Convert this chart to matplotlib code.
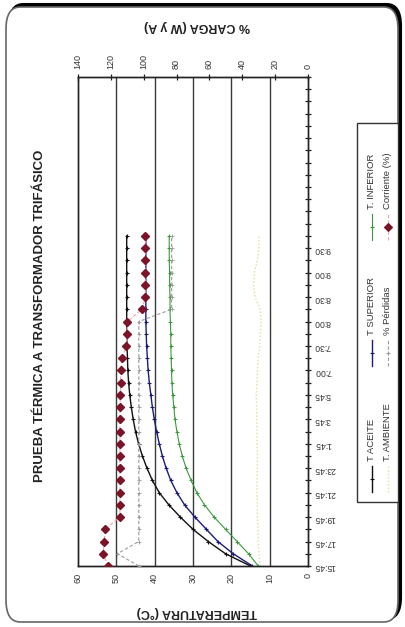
import matplotlib
matplotlib.use("Agg")
import matplotlib.pyplot as plt
from matplotlib.patches import FancyBboxPatch, Rectangle
from matplotlib.lines import Line2D

plt.rcParams['font.family'] = ['Liberation Sans', 'DejaVu Sans']

# ---- data -------------------------------------------------------------
horas = ["15:45", "16:45", "17:45", "18:45", "19:45", "20:45", "21:45", "22:45",
         "23:45", "0:45", "1:45", "2:45", "3:45", "4:45", "5:45", "6:30",
         "7:00", "7:15", "7:30", "7:45", "8:00", "8:15", "8:30", "8:45",
         "9:00", "9:15", "9:30", "9:45"]

t_aceite = [15.0, 21.5, 26.0, 30.0, 33.3, 36.3, 38.8, 40.6, 42.0, 43.2, 44.2,
            45.0, 45.6, 46.1, 46.5, 46.8, 47.0, 47.1, 47.2, 47.3, 47.3, 47.3,
            47.3, 47.3, 47.3, 47.3, 47.3, 47.3]
t_superior = [14.5, 19.5, 23.5, 26.5, 29.5, 32.2, 34.2, 35.8, 37.0, 38.0, 38.8,
              39.5, 40.1, 40.6, 41.0, 41.4, 41.7, 41.9, 42.1, 42.2, 42.3, 42.3,
              42.3, 42.3, 42.3, 42.3, 42.3, 42.3]
t_inferior = [13.0, 15.5, 18.5, 21.5, 24.5, 27.0, 29.0, 30.5, 31.8, 32.8, 33.6,
              34.2, 34.7, 35.0, 35.3, 35.5, 35.6, 35.7, 35.8, 35.8, 35.9, 36.0,
              36.0, 36.1, 36.1, 36.2, 36.2, 36.2]
t_ambiente = [12.5, 12.8, 13.0, 13.0, 13.2, 13.2, 13.3, 13.3, 13.2, 13.2, 13.3,
              13.3, 13.4, 13.4, 13.5, 13.3, 13.2, 13.0, 12.6, 12.4, 12.2, 12.5,
              13.8, 14.2, 14.0, 13.2, 12.8, 12.8]
perdidas = [103.0, 116.0, 103.0, 103.0, 103.0, 103.0, 103.0, 103.0, 103.0,
            103.0, 103.0, 103.0, 103.0, 103.0, 103.0, 103.0, 103.0, 103.0,
            103.0, 103.0, 103.0, 83.0, 83.0, 83.0, 83.0, 83.0, 83.0, 83.0]
corriente = [121.7, 124.8, 124.0, 123.5, 114.5, 114.5, 114.5, 114.5, 114.5,
             114.5, 114.5, 114.5, 114.5, 114.3, 114.3, 114.0, 114.0, 113.0,
             110.5, 110.3, 110.0, 101.0, 99.0, 99.0, 99.0, 99.0, 99.0, 99.0]

n_slots = 40
temp_ticks = list(range(0, 61, 10))
carga_ticks = list(range(0, 141, 20))

# ---- figure -------------------------------------------------------------
W, H = 406, 627
fig = plt.figure(figsize=(W / 100, H / 100), dpi=100)
fig.patch.set_facecolor("white")


def fx(px):
    return px / W


def fy(py):
    return 1 - py / H


# rounded outer frame; dark shadow shows along the top and right edges
shadow = FancyBboxPatch((fx(9), fy(619)), fx(392), (619 - 4) / H,
                        boxstyle="round,pad=0,rounding_size=0.035",
                        transform=fig.transFigure, facecolor="black",
                        edgecolor="black", lw=1.5, zorder=-2)
frame = FancyBboxPatch((fx(6), fy(622)), fx(392), (622 - 7) / H,
                       boxstyle="round,pad=0,rounding_size=0.035",
                       transform=fig.transFigure, facecolor="white",
                       edgecolor="#666666", lw=1.2, zorder=-1)
fig.patches.extend([shadow, frame])

ax = fig.add_axes([fx(78), fy(566), (308 - 78) / W, (566 - 77) / H])
ax.set_facecolor("none")
ax.set_xlim(60, 0)
ax.set_ylim(0, n_slots)
ax.set_zorder(2)

ax2 = ax.twiny()
ax2.set_xlim(140, 0)
ax2.set_zorder(3)
ax2.patch.set_visible(False)

idx = list(range(len(horas)))

# temperature series (rotated chart: value on x, time on y)
ax.plot(t_ambiente, idx, color="#e6dc9a", lw=1.0, ls=(0, (1, 1.5)), zorder=2)
ax.plot(t_inferior, idx, color="#3a9a3a", lw=0.8, marker="+", ms=3, mew=0.7, zorder=3)
ax.plot(t_superior, idx, color="#1c1c78", lw=1.0, marker="+", ms=3.5, mew=0.8, zorder=4)
ax.plot(t_aceite, idx, color="#111111", lw=1.0, marker="+", ms=3.5, mew=0.8, zorder=5)

# load series on the secondary axis
ax2.plot(perdidas, idx, color="#9a9a9a", lw=0.8, ls=(0, (3, 2)), marker="+",
         ms=2.5, mew=0.6, zorder=3)
ax2.plot(corriente, idx, color="#ff9aa8", lw=0.8, ls=(0, (3, 2)), zorder=4)
ax2.plot(corriente, idx, color="#7a1426", lw=0, marker="D", ms=4.2, zorder=5)

# grid and axes styling
for t in temp_ticks[1:-1]:
    ax.axvline(t, color="#3a3a3a", lw=1.0, zorder=1)
for a in (ax, ax2):
    for s in a.spines.values():
        s.set_color("#222222")
        s.set_linewidth(1.0)

ax.set_xticks(temp_ticks)
ax.set_xticklabels([str(t) for t in temp_ticks])
ax.tick_params(axis="x", length=0, pad=5, labelsize=6.5, labelrotation=90,
               colors="#333333")

ax.yaxis.tick_right()
ax.set_yticks(range(0, n_slots + 1))
ylabels = []
for i in range(n_slots + 1):
    ylabels.append(horas[i] if (i < len(horas) and i % 2 == 0) else "")
ax.set_yticklabels(ylabels)
ax.tick_params(axis="y", direction="inout", length=5, width=0.9, pad=2,
               labelsize=6.2, labelrotation=180, colors="#333333")
ax.tick_params(axis="y", color="#222222")

ax2.set_xticks(carga_ticks)
ax2.set_xticklabels([str(t) for t in carga_ticks])
ax2.tick_params(axis="x", direction="inout", length=5, width=0.9, pad=3,
                labelsize=6.5, labelrotation=90, colors="#333333")
ax2.tick_params(axis="x", color="#222222")

# titles
fig.text(fx(40), fy(316), "PRUEBA TÉRMICA A TRANSFORMADOR TRIFÁSICO",
         rotation=90, ha="center", va="center", fontsize=9.5,
         fontweight="bold", color="#222222")
fig.text(fx(197), fy(612), "TEMPERATURA (°C)", rotation=180, ha="center",
         va="center", fontsize=9, fontweight="bold", color="#222222")
fig.text(fx(197), fy(26), "% CARGA (W y A)", rotation=180, ha="center",
         va="center", fontsize=9, fontweight="bold", color="#222222")

# legend box (vertical, reading bottom to top)
fig.patches.append(Rectangle((fx(357), fy(502)), (398 - 357) / W, (502 - 123) / H,
                             transform=fig.transFigure, facecolor="white",
                             edgecolor="#333333", lw=1.0, zorder=2))

entries = [
    (372, 492, "T ACEITE", "#111111", 1.0, "-", "+", "#111111", 3.5),
    (372, 366, "T SUPERIOR", "#1c1c78", 1.0, "-", "+", "#1c1c78", 3.5),
    (372, 240, "T. INFERIOR", "#3a9a3a", 0.8, "-", "+", "#3a9a3a", 3),
    (388, 492, "T. AMBIENTE", "#e6dc9a", 1.0, (0, (1, 1.5)), None, None, 0),
    (388, 366, "% Pérdidas", "#9a9a9a", 0.8, (0, (3, 2)), "+", "#9a9a9a", 2.5),
    (388, 240, "Corriente (%)", "#ff9aa8", 0.8, (0, (3, 2)), "D", "#7a1426", 4),
]
for x0, y0, label, col, lw, ls, mk, mcol, ms in entries:
    fig.lines.append(Line2D([fx(x0), fx(x0)], [fy(y0), fy(y0 - 26)],
                            transform=fig.transFigure, color=col, lw=lw, ls=ls,
                            zorder=3))
    if mk:
        fig.lines.append(Line2D([fx(x0)], [fy(y0 - 13)], transform=fig.transFigure,
                                lw=0, marker=mk, ms=ms, color=mcol, mec=mcol,
                                mew=0.8, zorder=4))
    fig.text(fx(x0), fy(y0 - 31), label, rotation=90, ha="center", va="bottom",
             fontsize=6.8, color="#333333", zorder=4)

fig.savefig("out.png", dpi=100)
